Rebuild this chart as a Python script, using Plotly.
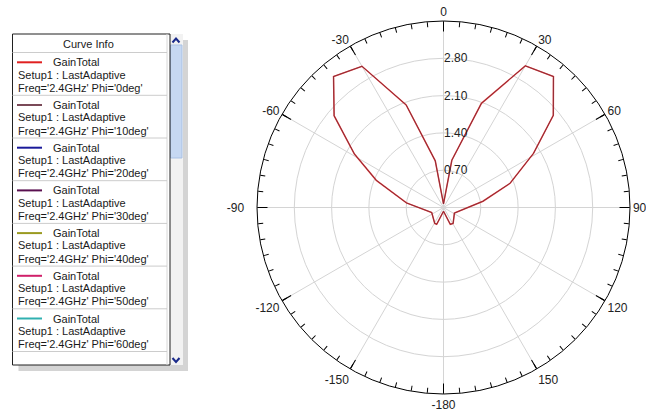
import plotly.graph_objects as go

# ---------------- data ----------------
theta_deg = [-180, -158, -151, -113, -83, -68, -59, -50, -40, -30, -20, -10, 0,
             10, 20, 30, 40, 50, 59, 70, 81, 117, 149, 158, 180]
gain_total = [0.07, 0.34, 0.34, 0.24, 0.70, 1.36, 1.95, 2.68, 3.21, 3.06, 2.05, 0.89, 0.07,
              0.90, 2.08, 3.07, 3.21, 2.69, 1.97, 1.33, 0.75, 0.23, 0.35, 0.34, 0.07]

angle_ticks = [0, 30, 60, 90, 120, 150, 180, 210, 240, 270, 300, 330]
angle_labels = ['0', '30', '60', '90', '120', '150', '-180', '-150', '-120', '-90', '-60', '-30']
radial_ticks = [0.70, 1.40, 2.10, 2.80]
radial_labels = ['0.70', '1.40', '2.10', '2.80']
radial_max = 3.5

legend_phis = ['0deg', '10deg', '20deg', '30deg', '40deg', '50deg', '60deg']
legend_colors = ['#e02020', '#7a4a58', '#1a1a9a', '#5a1050', '#9a9a20', '#d0206a', '#30b0b0']

W, H = 646, 415
FONT = 'Liberation Sans, Arial, sans-serif'


def px(x):
    return x / W


def py(y):
    return 1 - y / H


fig = go.Figure()

# curve (drawn twice: red halo + dark core, as in the reference)
fig.add_trace(go.Scatterpolar(r=gain_total, theta=theta_deg, mode='lines',
                              line=dict(color='#e04040', width=1.5), subplot='polar',
                              name="Phi='0deg'"))
fig.add_trace(go.Scatterpolar(r=gain_total, theta=theta_deg, mode='lines',
                              line=dict(color='#5a2030', width=0.6), subplot='polar',
                              name="Phi='10deg'"))
# empty trace so the overlay subplot (minor ticks) is rendered
fig.add_trace(go.Scatterpolar(r=[None], theta=[None], mode='lines', subplot='polar2',
                              showlegend=False, hoverinfo='skip'))

cx0, cx1 = 257, 630
cy0, cy1 = 21, 394
dom = dict(x=[px(cx0), px(cx1)], y=[py(cy1), py(cy0)])

# extra padding for the -90 label, as in the reference
angle_text = [t + '\u00a0\u00a0\u00a0' if t == '-90' else t for t in angle_labels]

fig.update_layout(
    width=W, height=H,
    margin=dict(l=0, r=0, t=0, b=0),
    paper_bgcolor='white',
    showlegend=False,
    font=dict(family=FONT, size=12, color='#222222'),
    polar=dict(
        domain=dom,
        bgcolor='white',
        angularaxis=dict(
            rotation=90, direction='clockwise',
            tickmode='array', tickvals=angle_ticks, ticktext=angle_text,
            ticks='inside', ticklen=10, tickcolor='black', tickwidth=1,
            showline=True, linecolor='black', linewidth=1,
            showgrid=True, gridcolor='#d4d4d4', gridwidth=1,
            tickfont=dict(family=FONT, size=12, color='#222222'),
        ),
        radialaxis=dict(
            range=[0, radial_max], angle=90, side='clockwise',
            tickmode='array', tickvals=radial_ticks, ticktext=radial_labels,
            showline=False, ticks='', showgrid=True, gridcolor='#d4d4d4', gridwidth=1,
            tickfont=dict(family=FONT, size=12, color='#222222'), tickangle=90,
        ),
    ),
    polar2=dict(
        domain=dom,
        bgcolor='rgba(0,0,0,0)',
        angularaxis=dict(
            rotation=90, direction='clockwise',
            tickmode='array', tickvals=list(range(0, 360, 5)),
            ticks='inside', ticklen=5, tickcolor='black', tickwidth=1,
            showticklabels=False, showline=False, showgrid=False,
        ),
        radialaxis=dict(range=[0, radial_max], visible=False),
    ),
)

# ---------------- "Curve Info" panel ----------------
shapes = []
annotations = []
bx0, bx1, by0, by1 = 12.5, 170, 34, 365

# drop shadow
shapes.append(dict(type='rect', xref='paper', yref='paper', x0=px(bx0 + 6), x1=px(188),
                   y0=py(by1 + 6), y1=py(by0 + 6), fillcolor='#d4d4d4', line=dict(width=0), layer='below'))
# scrollbar track
shapes.append(dict(type='rect', xref='paper', yref='paper', x0=px(170), x1=px(183),
                   y0=py(by1), y1=py(by0), fillcolor='#f2f2f2', line=dict(width=0)))
# scrollbar thumb
shapes.append(dict(type='rect', xref='paper', yref='paper', x0=px(170.5), x1=px(182),
                   y0=py(158), y1=py(45), fillcolor='#c6d8f2', line=dict(color='#a9c1e4', width=1)))
# main box
shapes.append(dict(type='rect', xref='paper', yref='paper', x0=px(bx0), x1=px(bx1),
                   y0=py(by1), y1=py(by0), fillcolor='white', line=dict(color='#202020', width=1)))
# inner light vertical line
shapes.append(dict(type='line', xref='paper', yref='paper', x0=px(167), x1=px(167),
                   y0=py(by1), y1=py(by0), line=dict(color='#d8d8d8', width=1)))
# arrows
shapes.append(dict(type='path', xref='paper', yref='paper',
                   path=f'M {px(172.5)} {py(42.5)} L {px(176)} {py(38.5)} L {px(179.5)} {py(42.5)}',
                   line=dict(color='#1a2a8a', width=2)))
shapes.append(dict(type='path', xref='paper', yref='paper',
                   path=f'M {px(172.5)} {py(358)} L {px(176)} {py(362)} L {px(179.5)} {py(358)}',
                   line=dict(color='#1a2a8a', width=2)))

annotations.append(dict(x=px(88), y=py(44), xref='paper', yref='paper', text='Curve Info',
                        showarrow=False, xanchor='center', yanchor='middle',
                        font=dict(family=FONT, size=11, color='#1a1a1a')))
shapes.append(dict(type='line', xref='paper', yref='paper', x0=px(bx0), x1=px(167),
                   y0=py(52.5), y1=py(52.5), line=dict(color='#cccccc', width=1)))

pitch = 42.7
for i, (phi, col) in enumerate(zip(legend_phis, legend_colors)):
    ly = 62.3 + pitch * i
    shapes.append(dict(type='line', xref='paper', yref='paper', x0=px(17), x1=px(42),
                       y0=py(ly), y1=py(ly), line=dict(color=col, width=2)))
    annotations.append(dict(x=px(50.5), y=py(ly), xref='paper', yref='paper', text='GainTotal',
                            showarrow=False, xanchor='left', yanchor='middle',
                            font=dict(family=FONT, size=11, color='#1a1a1a')))
    annotations.append(dict(x=px(16), y=py(ly + 12.3), xref='paper', yref='paper',
                            text='Setup1 : LastAdaptive',
                            showarrow=False, xanchor='left', yanchor='middle',
                            font=dict(family=FONT, size=11, color='#1a1a1a')))
    annotations.append(dict(x=px(16), y=py(ly + 25.5), xref='paper', yref='paper',
                            text=f"Freq='2.4GHz' Phi='{phi}'",
                            showarrow=False, xanchor='left', yanchor='middle',
                            font=dict(family=FONT, size=11, color='#1a1a1a')))
    sy = ly + 33
    shapes.append(dict(type='line', xref='paper', yref='paper', x0=px(bx0), x1=px(167),
                       y0=py(sy), y1=py(sy), line=dict(color='#cccccc', width=1)))

fig.update_layout(shapes=shapes, annotations=annotations)

fig.write_html('out.html', config={'displayModeBar': False},
               post_script="document.body.style.margin='0';document.body.style.overflow='hidden';")
